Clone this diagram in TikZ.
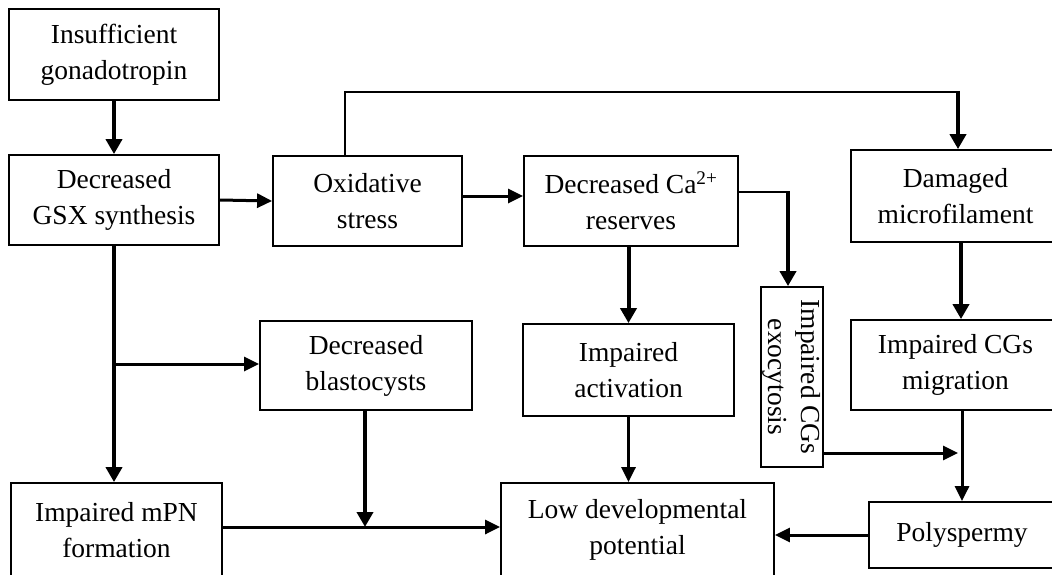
\documentclass[tikz,border=0pt]{standalone}
\usepackage{fontspec}
\setmainfont{Liberation Serif}
\usetikzlibrary{arrows.meta,calc}
\begin{document}
\begin{tikzpicture}[x=1pt,y=-1pt,
  box/.style={draw, line width=1.8pt, inner sep=0pt, align=center,
    font=\fontsize{27.5}{36}\selectfont},
  thin/.style={line width=1.5pt},
  mid/.style={line width=3pt, -{Triangle[length=15pt,width=14pt]}},
  thk/.style={line width=4pt, -{Triangle[length=15pt,width=16pt]}},
]
\path[use as bounding box] (0,0) rectangle (1052,575);
\clip (0,0) rectangle (1052,575);

% boxes
\node[box, minimum width=210pt, minimum height=91pt] (ins) at (114,54.5) {Insufficient\\gonadotropin};
\node[box, minimum width=210pt, minimum height=90pt] (gsx) at (114,200) {Decreased\\GSX synthesis};
\node[box, minimum width=189pt, minimum height=90pt] (oxi) at (367.5,201) {Oxidative\\stress};
\node[box, minimum width=214pt, minimum height=90pt] (ca) at (631,201) {Decreased Ca\textsuperscript{2+}\\reserves};
\node[box, minimum width=209pt, minimum height=92pt] (dam) at (955.5,196) {Damaged\\microfilament};
\node[box, minimum width=212pt, minimum height=89pt] (blast) at (366,365.5) {Decreased\\blastocysts};
\node[box, minimum width=211pt, minimum height=92pt] (act) at (628.5,370) {Impaired\\activation};
\node[box, rotate=-90, minimum width=180pt, minimum height=62pt,
      font=\fontsize{27.5}{33}\selectfont] (exo) at (792,377) {Impaired CGs\\exocytosis};
\node[box, minimum width=209pt, minimum height=90pt] (mig) at (955.5,365) {Impaired CGs\\migration};
\node[box, minimum width=211pt, minimum height=94pt] (mpn) at (116.5,530) {Impaired mPN\\formation};
\node[box, minimum width=273pt, minimum height=94pt] (low) at (637.5,530) {Low developmental\\potential};
\node[box, minimum width=186pt, minimum height=66pt] (poly) at (962,535) {Polyspermy};

% helper coordinates
\coordinate (c1) at (345,92);
\coordinate (c2) at (958,92);
\coordinate (c3) at (788,192);
\coordinate (c4) at (114,364);
\coordinate (c5) at (365,527);
\coordinate (c7) at (958,453);

% connectors
\draw[thk] (ins.south) -- (gsx.north);
\draw[mid] (gsx.east) -- (oxi.west);
\draw[mid] (oxi.east |- 0,196) -- (ca.west |- 0,196);
\draw[thin] (oxi.north -| c1) -- (c1) -- (c2);
\draw[thk] ($(c2)+(0,-1)$) -- (c2 |- dam.north);
\draw[thin] (ca.east |- c3) -- (c3);
\draw[thk] ($(c3)+(0,-1)$) -- (c3 |- exo.west);
\draw[thk] (act.north |- ca.south) -- (act.north);
\draw[mid] (act.south) -- (act.south |- low.north);
\draw[thk] (gsx.south) -- (gsx.south |- mpn.north);
\draw[mid] (c4) -- (blast.west |- c4);
\draw[thk] (blast.south -| c5) -- (c5);
\draw[mid] (mpn.east |- c5) -- (low.west |- c5);
\draw[mid] (poly.west) -- (poly.west -| low.east);
\draw[thk] (dam.south -| 961,0) -- (mig.north -| 961,0);
\draw[mid] (mig.south -| 962,0) -- (poly.north -| 962,0);
\draw[mid] (exo.north |- c7) -- (c7);
\end{tikzpicture}
\end{document}
